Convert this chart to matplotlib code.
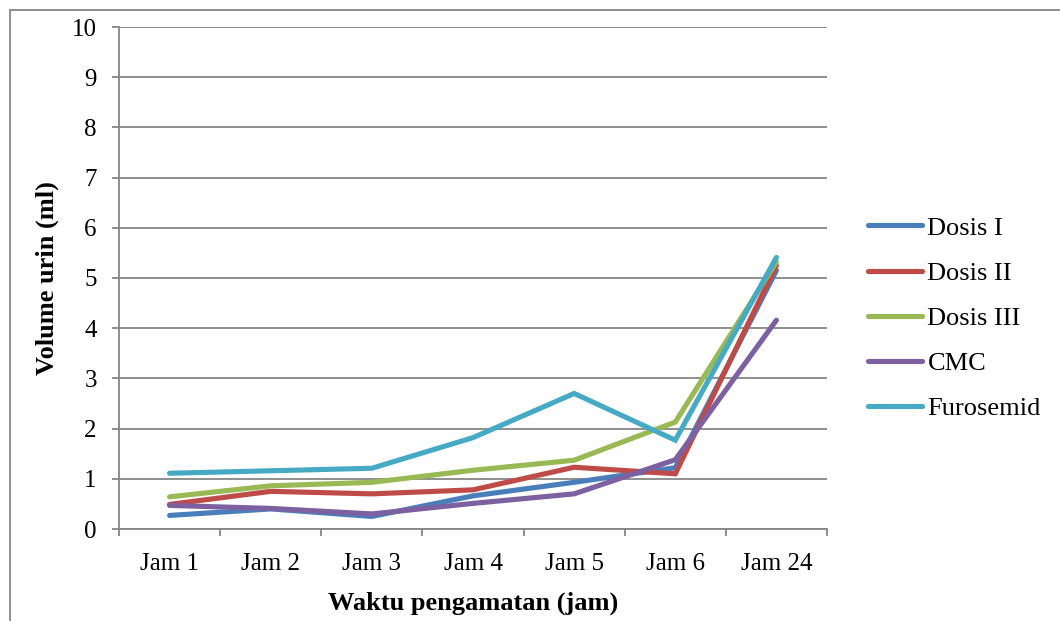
import matplotlib.pyplot as plt
import numpy as np
from matplotlib.patches import Rectangle

# Volume urin per waktu pengamatan
waktu = ['Jam 1', 'Jam 2', 'Jam 3', 'Jam 4', 'Jam 5', 'Jam 6', 'Jam 24']
dosis_1 = [0.27, 0.40, 0.25, 0.66, 0.93, 1.22, 5.15]
dosis_2 = [0.49, 0.75, 0.70, 0.78, 1.23, 1.10, 5.25]
dosis_3 = [0.64, 0.86, 0.93, 1.17, 1.37, 2.13, 5.32]
cmc = [0.47, 0.41, 0.30, 0.51, 0.70, 1.38, 4.16]
furosemid = [1.11, 1.16, 1.21, 1.82, 2.70, 1.77, 5.41]

nama = ['Dosis I', 'Dosis II', 'Dosis III', 'CMC', 'Furosemid']
warna = ['#4A7EBB', '#BE4B48', '#98B954', '#7D60A0', '#46AAC5']

plt.rcParams['font.family'] = ['Liberation Serif', 'DejaVu Serif']

fig = plt.figure(figsize=(10.6, 6.21), dpi=100)
ax = fig.add_axes([119 / 1060, 1 - 529 / 621, 708 / 1060, 502 / 621])

x = np.arange(len(waktu))
for seri, nm, c in zip([dosis_1, dosis_2, dosis_3, cmc, furosemid], nama, warna):
    ax.plot(x, seri, color=c, linewidth=3.7, label=nm, solid_capstyle='round',
            solid_joinstyle='miter')

ax.set_xlim(-0.5, len(waktu) - 0.5)
ax.set_ylim(0, 10)
ax.set_yticks(range(0, 11))
ax.set_xticks(x)
ax.set_xticklabels(waktu)
ax.set_xticks(np.arange(-0.5, len(waktu), 1), minor=True)
ax.tick_params(axis='x', which='major', length=0, labelsize=18, pad=17)
ax.tick_params(axis='x', which='minor', length=5, color='#868686', width=1.3)
ax.tick_params(axis='y', length=5, color='#868686', width=1.3, labelsize=18, pad=11)

ax.grid(axis='y', color='#868686', linewidth=1.3)
ax.set_axisbelow(True)
for s in ['top', 'right']:
    ax.spines[s].set_visible(False)
for s in ['left', 'bottom']:
    ax.spines[s].set_color('#868686')
    ax.spines[s].set_linewidth(1.3)

ax.set_ylabel('Volume urin (ml)', fontsize=19, fontweight='bold', labelpad=9)
ax.set_xlabel('Waktu pengamatan (jam)', fontsize=19, fontweight='bold', labelpad=12)

ax.legend(loc='center left', bbox_to_anchor=(1.058, 0.42), frameon=False,
          fontsize=19, handlelength=2.05, handletextpad=0.2, labelspacing=0.82,
          borderpad=0, borderaxespad=0)

# bingkai luar grafik
fig.patches.append(Rectangle((10 / 1060, -0.1), 1.2, 1 - 10 / 621 + 0.1,
                             transform=fig.transFigure, fill=False,
                             edgecolor='#868686', linewidth=1.3))

fig.savefig('out.png', dpi=100)
